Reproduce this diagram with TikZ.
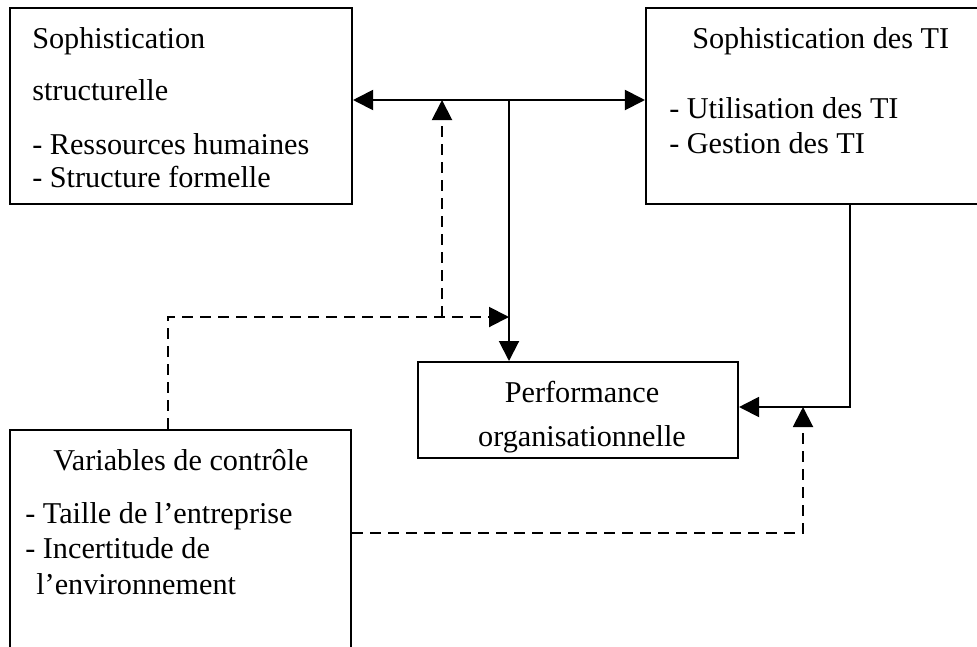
\documentclass[tikz,border=0pt]{standalone}
\usepackage{fontspec}
\setmainfont{Liberation Serif}
\usetikzlibrary{arrows.meta}

\tikzset{
  box/.style={draw, line width=1.4pt, inner sep=0pt},
  txt/.style={anchor=base west, inner sep=0pt, font=\fontsize{21.5}{25}\selectfont},
  ctxt/.style={anchor=base, inner sep=0pt, font=\fontsize{21.5}{25}\selectfont},
  link/.style={line width=1.4pt},
  dlink/.style={line width=1.4pt, dash pattern=on 0.28cm off 0.17cm}
}

\begin{document}
\begin{tikzpicture}[x=0.025cm,y=-0.025cm,>={Triangle[length=0.5cm,width=0.5cm]}]
\path[use as bounding box, clip] (0,0) rectangle (977,646);

% boxes
\node[box, minimum width=8.55cm, minimum height=4.9cm] (struct) at (181,106) {};
\node[box, minimum width=8.85cm, minimum height=4.9cm] (ti) at (823,106) {};
\node[box, minimum width=8cm, minimum height=2.4cm] (perf) at (578,410) {};
\node[box, minimum width=8.525cm, minimum height=6.75cm] (ctrl) at (180.5,565) {};

% texts
\node[txt] (s1) at (32,48) {Sophistication};
\node[txt] (s2) at (32,100) {structurelle};
\node[txt] (s3) at (32,154) {- Ressources humaines};
\node[txt] (s4) at (32,187) {- Structure formelle};
\node[txt] (t1) at (692,48) {Sophistication des TI};
\node[txt] (t2) at (669,118) {- Utilisation des TI};
\node[txt] (t3) at (669,153) {- Gestion des TI};
\node[ctxt] (p1) at (582,402) {Performance};
\node[ctxt] (p2) at (582,446) {organisationnelle};
\node[ctxt] (c1) at (181,470) {Variables de contrôle};
\node[txt] (c2) at (25,523) {- Taille de l'entreprise};
\node[txt] (c3) at (25,558) {- Incertitude de};
\node[txt] (c4) at (36,594) {l'environnement};

% connectors
\coordinate (hub) at (509,100);
\coordinate (bend) at (168,317);
\coordinate (up) at (442,317);
\coordinate (join) at (850,407);
\coordinate (mod) at (803,533);
\draw[link,<->] (struct.east |- hub) -- (ti.west |- hub);
\draw[link,->] (hub) -- (perf.north -| hub);
\draw[link,->] (ti.south -| join) -- (join) -- (perf.east |- join);
\draw[dlink,->] (ctrl.north -| bend) -- (bend) -- (hub |- bend);
\draw[dlink,->] (up) -- (up |- hub);
\draw[dlink,->] (ctrl.east |- mod) -- (mod) -- (mod |- join);
\end{tikzpicture}
\end{document}
